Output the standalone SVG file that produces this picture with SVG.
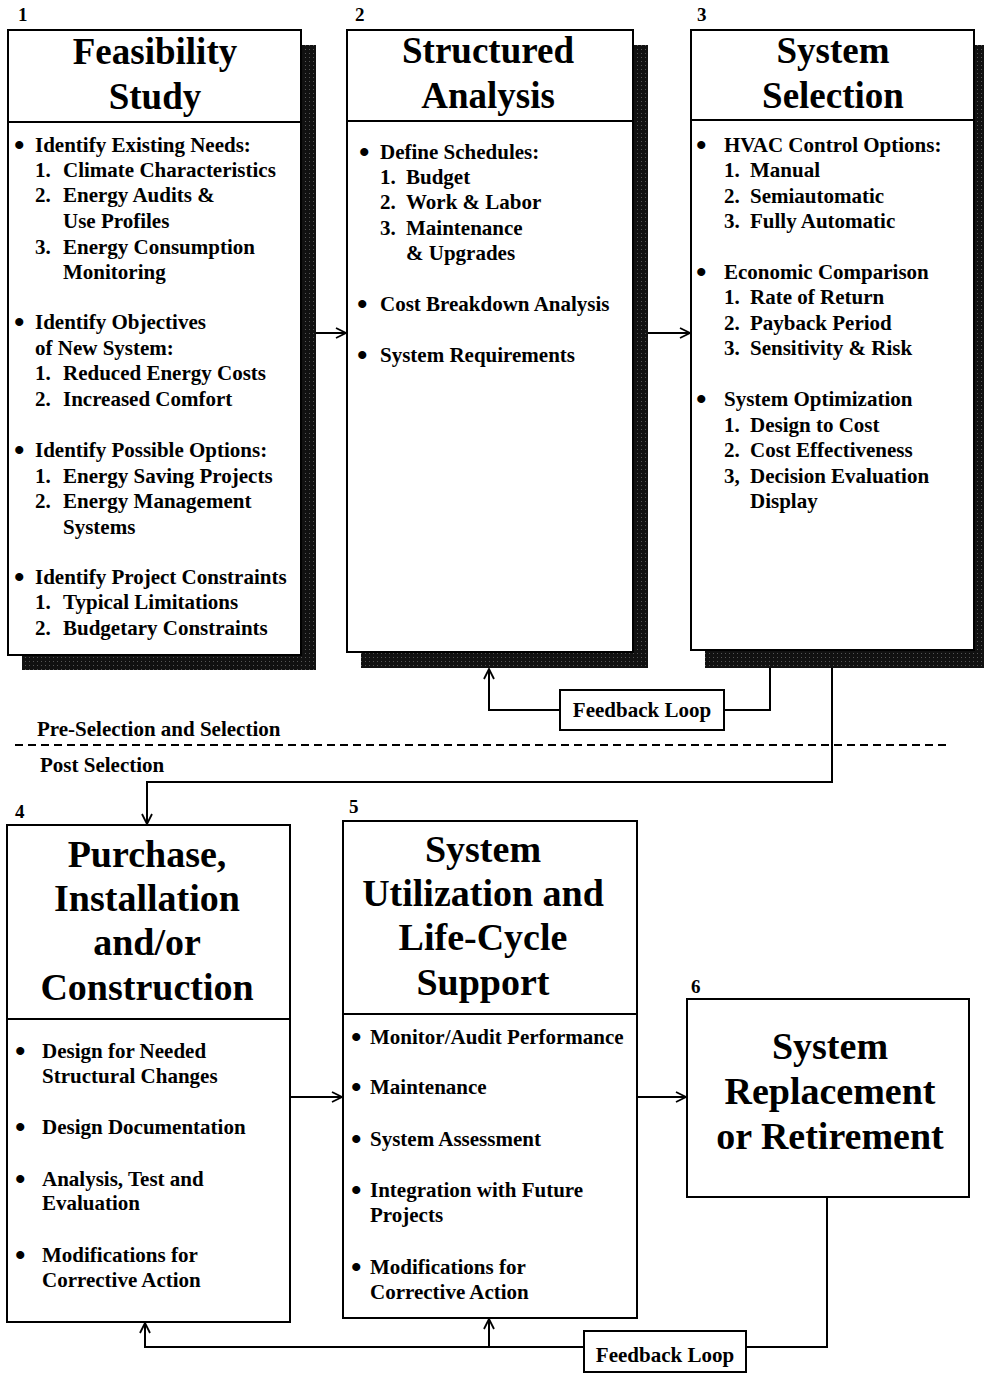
<svg xmlns="http://www.w3.org/2000/svg" width="984" height="1374" viewBox="0 0 984 1374">
<defs>
<marker id="arr" viewBox="0 0 12 12" refX="11" refY="6" markerWidth="12" markerHeight="12" markerUnits="userSpaceOnUse" orient="auto">
<path d="M1,1 L11,6 L1,11" fill="none" stroke="#000" stroke-width="1.8"/>
</marker>
<pattern id="shade" width="4" height="4" patternUnits="userSpaceOnUse">
<rect width="4" height="4" fill="#111"/>
<rect x="1" y="1" width="1" height="1" fill="#555"/>
</pattern>
</defs>
<style>
.box{fill:#fff;stroke:#000;stroke-width:2}
.shadow{fill:url(#shade)}
.div{stroke:#000;stroke-width:2}
.t{font-family:"Liberation Serif","Times New Roman",serif;font-weight:bold;fill:#000}
.title{font-size:37px;text-anchor:middle}
.title2{font-size:38px;text-anchor:middle}
.b{font-size:21px}
.bl{font-size:30px}
.num{font-size:19px}
.conn{fill:none;stroke:#000;stroke-width:2}
.dash{fill:none;stroke:#000;stroke-width:2;stroke-dasharray:8 5}
</style>
<rect width="984" height="1374" fill="#fff"/>

<g id="node1">
<rect class="shadow" x="22" y="45" width="294" height="625"/>
<rect class="box" x="8" y="30" width="293" height="625"/>
<line class="div" x1="8" y1="122" x2="301" y2="122"/>
<text class="t num" x="18" y="21">1</text>
<text class="t title" x="155" y="64">Feasibility</text>
<text class="t title" x="155" y="109">Study</text>
<g class="t b">
<text class="bl" x="14" y="155">•</text><text x="35" y="152">Identify Existing Needs:</text>
<text x="35" y="177">1.</text><text x="63" y="177">Climate Characteristics</text>
<text x="35" y="202">2.</text><text x="63" y="202">Energy Audits &amp;</text>
<text x="63" y="228">Use Profiles</text>
<text x="35" y="254">3.</text><text x="63" y="254">Energy Consumption</text>
<text x="63" y="279">Monitoring</text>
<text class="bl" x="14" y="332">•</text><text x="35" y="329">Identify Objectives</text>
<text x="35" y="355">of New System:</text>
<text x="35" y="380">1.</text><text x="63" y="380">Reduced Energy Costs</text>
<text x="35" y="406">2.</text><text x="63" y="406">Increased Comfort</text>
<text class="bl" x="14" y="460">•</text><text x="35" y="457">Identify Possible Options:</text>
<text x="35" y="483">1.</text><text x="63" y="483">Energy Saving Projects</text>
<text x="35" y="508">2.</text><text x="63" y="508">Energy Management</text>
<text x="63" y="534">Systems</text>
<text class="bl" x="14" y="587">•</text><text x="35" y="584">Identify Project Constraints</text>
<text x="35" y="609">1.</text><text x="63" y="609">Typical Limitations</text>
<text x="35" y="635">2.</text><text x="63" y="635">Budgetary Constraints</text>
</g>
</g>

<g id="node2">
<rect class="shadow" x="361" y="45" width="287" height="623"/>
<rect class="box" x="347" y="30" width="286" height="622"/>
<line class="div" x1="347" y1="121" x2="633" y2="121"/>
<text class="t num" x="355" y="21">2</text>
<text class="t title" x="488" y="63">Structured</text>
<text class="t title" x="488" y="108">Analysis</text>
<g class="t b">
<text class="bl" x="359" y="162">•</text><text x="380" y="159">Define Schedules:</text>
<text x="380" y="184">1.</text><text x="406" y="184">Budget</text>
<text x="380" y="209">2.</text><text x="406" y="209">Work &amp; Labor</text>
<text x="380" y="235">3.</text><text x="406" y="235">Maintenance</text>
<text x="406" y="260">&amp; Upgrades</text>
<text class="bl" x="357" y="314">•</text><text x="380" y="311">Cost Breakdown Analysis</text>
<text class="bl" x="357" y="365">•</text><text x="380" y="362">System Requirements</text>
</g>
</g>

<g id="node3">
<rect class="shadow" x="705" y="45" width="290" height="623"/>
<rect class="box" x="691" y="30" width="283" height="620"/>
<line class="div" x1="691" y1="120" x2="974" y2="120"/>
<text class="t num" x="697" y="21">3</text>
<text class="t title" x="833" y="63">System</text>
<text class="t title" x="833" y="108">Selection</text>
<g class="t b">
<text class="bl" x="696" y="155">•</text><text x="724" y="152">HVAC Control Options:</text>
<text x="724" y="177">1.</text><text x="750" y="177">Manual</text>
<text x="724" y="203">2.</text><text x="750" y="203">Semiautomatic</text>
<text x="724" y="228">3.</text><text x="750" y="228">Fully Automatic</text>
<text class="bl" x="696" y="282">•</text><text x="724" y="279">Economic Comparison</text>
<text x="724" y="304">1.</text><text x="750" y="304">Rate of Return</text>
<text x="724" y="330">2.</text><text x="750" y="330">Payback Period</text>
<text x="724" y="355">3.</text><text x="750" y="355">Sensitivity &amp; Risk</text>
<text class="bl" x="696" y="409">•</text><text x="724" y="406">System Optimization</text>
<text x="724" y="432">1.</text><text x="750" y="432">Design to Cost</text>
<text x="724" y="457">2.</text><text x="750" y="457">Cost Effectiveness</text>
<text x="724" y="483">3,</text><text x="750" y="483">Decision Evaluation</text>
<text x="750" y="508">Display</text>
</g>
</g>

<g id="node4">
<rect class="box" x="7" y="825" width="283" height="497"/>
<line class="div" x1="7" y1="1019" x2="290" y2="1019"/>
<text class="t num" x="15" y="818">4</text>
<text class="t title2" x="147" y="867">Purchase,</text>
<text class="t title2" x="147" y="911">Installation</text>
<text class="t title2" x="147" y="955">and/or</text>
<text class="t title2" x="147" y="1000">Construction</text>
<g class="t b">
<text class="bl" x="15" y="1061">•</text><text x="42" y="1058">Design for Needed</text>
<text x="42" y="1083">Structural Changes</text>
<text class="bl" x="15" y="1137">•</text><text x="42" y="1134">Design Documentation</text>
<text class="bl" x="15" y="1189">•</text><text x="42" y="1186">Analysis, Test and</text>
<text x="42" y="1210">Evaluation</text>
<text class="bl" x="15" y="1265">•</text><text x="42" y="1262">Modifications for</text>
<text x="42" y="1287">Corrective Action</text>
</g>
</g>

<g id="node5">
<rect class="box" x="343" y="821" width="294" height="497"/>
<line class="div" x1="343" y1="1014" x2="637" y2="1014"/>
<text class="t num" x="349" y="813">5</text>
<text class="t title2" x="483" y="862">System</text>
<text class="t title2" x="483" y="906">Utilization and</text>
<text class="t title2" x="483" y="950">Life-Cycle</text>
<text class="t title2" x="483" y="995">Support</text>
<g class="t b">
<text class="bl" x="351" y="1047">•</text><text x="370" y="1044">Monitor/Audit Performance</text>
<text class="bl" x="351" y="1097">•</text><text x="370" y="1094">Maintenance</text>
<text class="bl" x="351" y="1149">•</text><text x="370" y="1146">System Assessment</text>
<text class="bl" x="351" y="1200">•</text><text x="370" y="1197">Integration with Future</text>
<text x="370" y="1222">Projects</text>
<text class="bl" x="351" y="1277">•</text><text x="370" y="1274">Modifications for</text>
<text x="370" y="1299">Corrective Action</text>
</g>
</g>

<g id="node6">
<rect class="box" x="687" y="999" width="282" height="198"/>
<text class="t num" x="691" y="993">6</text>
<text class="t title2" x="830" y="1059">System</text>
<text class="t title2" x="830" y="1104">Replacement</text>
<text class="t title2" x="830" y="1149">or Retirement</text>
</g>

<g id="feedback1">
<rect class="box" x="560" y="690" width="164" height="40"/>
<text class="t b" x="642" y="717" text-anchor="middle">Feedback Loop</text>
</g>
<g id="feedback2">
<rect class="box" x="584" y="1331" width="162" height="41"/>
<text class="t b" x="665" y="1362" text-anchor="middle">Feedback Loop</text>
</g>

<g id="phase-labels">
<text class="t b" x="37" y="736">Pre-Selection and Selection</text>
<line class="dash" x1="15" y1="745" x2="948" y2="745"/>
<text class="t b" x="40" y="772">Post Selection</text>
</g>

<g id="connectors">
<line class="conn" x1="316" y1="333" x2="346" y2="333" marker-end="url(#arr)"/>
<line class="conn" x1="648" y1="333" x2="690" y2="333" marker-end="url(#arr)"/>
<polyline class="conn" points="770,668 770,710 724,710"/>
<polyline class="conn" points="560,710 489,710 489,669" marker-end="url(#arr)"/>
<polyline class="conn" points="832,668 832,782 147,782 147,824" marker-end="url(#arr)"/>
<line class="conn" x1="290" y1="1097" x2="342" y2="1097" marker-end="url(#arr)"/>
<line class="conn" x1="637" y1="1097" x2="686" y2="1097" marker-end="url(#arr)"/>
<polyline class="conn" points="827,1197 827,1347 746,1347"/>
<polyline class="conn" points="584,1347 145,1347 145,1323" marker-end="url(#arr)"/>
<line class="conn" x1="489" y1="1347" x2="489" y2="1319" marker-end="url(#arr)"/>
</g>
</svg>
